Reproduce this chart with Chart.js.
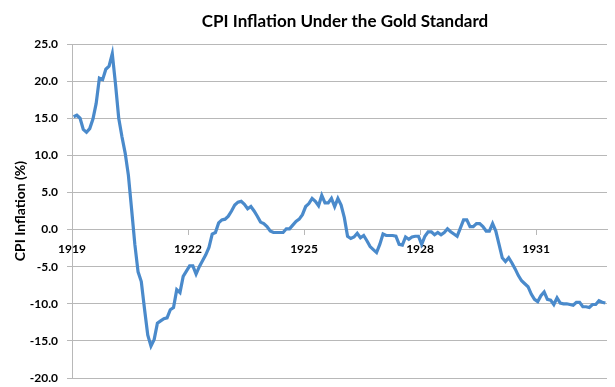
<!DOCTYPE html>
<html>
<head>
<meta charset="utf-8">
<script src="https://cdn.jsdelivr.net/npm/chart.js@4.4.1/dist/chart.umd.min.js"></script>
<style>
  html, body { margin: 0; padding: 0; background: #fff; }
  #wrap { width: 615px; height: 387px; }
</style>
</head>
<body>
<div id="wrap"><canvas id="cpiChart"></canvas></div>
<script>
// Chart texts
const chartTitle = 'CPI Inflation Under the Gold Standard';
const yAxisTitle = 'CPI Inflation (%)';

// x axis labels, one every 36 months
const yearLabels = ['1919', '1922', '1925', '1928', '1931'];
const monthsPerLabel = 36;

// y axis range (%)
const yMin = -20;
const yMax = 25;
const yStep = 5;

// monthly CPI inflation (%)
const cpiInflation = [
  15.2, 15.4, 15.0, 13.5, 13.1, 13.6, 14.9, 17.0, 20.4, 20.2, 21.6, 22.0,
  23.7, 19.6, 15.0, 12.5, 10.3, 7.3, 2.7, -2.0, -5.7, -7.0, -10.7, -14.2,
  -15.7, -14.8, -12.6, -12.3, -12.0, -11.9, -10.8, -10.5, -8.1, -8.5, -6.3, -5.6,
  -4.9, -4.9, -6.0, -5.0, -4.2, -3.4, -2.4, -0.6, -0.4, 0.9, 1.3, 1.4,
  1.8, 2.5, 3.3, 3.7, 3.8, 3.4, 2.8, 3.1, 2.5, 1.8, 1.0, 0.8,
  0.4, -0.2, -0.4, -0.4, -0.4, -0.4, 0.1, 0.1, 0.6, 1.1, 1.4, 2.0,
  3.1, 3.5, 4.2, 3.8, 3.2, 4.6, 3.6, 3.6, 4.2, 3.1, 4.2, 3.3,
  1.6, -0.9, -1.2, -1.0, -0.5, -1.1, -0.8, -1.5, -2.3, -2.7, -3.1, -2.0,
  -0.6, -0.8, -0.8, -0.8, -0.9, -2.0, -2.1, -1.0, -1.3, -1.0, -0.9, -0.9,
  -2.0, -0.9, -0.3, -0.3, -0.7, -0.4, -0.7, -0.4, 0.1, -0.3, -0.6, -0.9,
  0.2, 1.3, 1.3, 0.4, 0.4, 0.8, 0.8, 0.4, -0.2, -0.2, 0.8, -0.2,
  -2.0, -3.8, -4.3, -3.8, -4.5, -5.3, -6.2, -6.9, -7.3, -7.7, -8.7, -9.4,
  -9.7, -8.9, -8.4, -9.4, -9.5, -10.1, -9.2, -9.9, -10.0, -10.0, -10.1, -10.2,
  -9.8, -9.8, -10.4, -10.4, -10.5, -10.1, -10.1, -9.6, -9.8, -9.9
];

const fontFamily = 'Lato, "Open Sans", sans-serif';
const gridGray = '#b8b8b8';

// title drawn over the plot, slightly right of canvas centre like the original
const titlePlugin = {
  id: 'plotTitle',
  afterDraw(chart) {
    const ctx = chart.ctx;
    ctx.save();
    ctx.font = 'bold 17px ' + fontFamily;
    ctx.fillStyle = '#000';
    ctx.textAlign = 'center';
    ctx.textBaseline = 'middle';
    ctx.fillText(chartTitle, 345, 22);
    ctx.restore();
  }
};

const ctx = document.getElementById('cpiChart').getContext('2d');
new Chart(ctx, {
  type: 'line',
  data: {
    datasets: [{
      label: 'CPI Inflation',
      data: cpiInflation.map((v, i) => ({ x: i, y: v })),
      borderColor: '#4a8acb',
      borderWidth: 3.2,
      pointRadius: 0,
      fill: false,
      tension: 0
    }]
  },
  options: {
    responsive: true,
    maintainAspectRatio: false,
    animation: false,
    layout: {
      padding: { top: 44, right: 8, bottom: 9, left: 0 }
    },
    plugins: {
      legend: { display: false },
      tooltip: { enabled: false }
    },
    scales: {
      x: {
        type: 'linear',
        position: { y: 0 },
        min: -0.5,
        max: cpiInflation.length - 0.5,
        afterBuildTicks: scale => {
          scale.ticks = yearLabels.map((_, k) => ({ value: -0.5 + k * monthsPerLabel }));
        },
        afterFit: scale => { scale.height = 0; },
        ticks: {
          autoSkip: false,
          maxRotation: 0,
          padding: 7,
          color: '#000',
          font: { family: fontFamily, size: 12, weight: 'bold' },
          callback: (value, index) => yearLabels[index]
        },
        grid: {
          drawOnChartArea: false,
          drawTicks: true,
          tickLength: 5,
          color: gridGray
        },
        border: { color: gridGray, width: 1 }
      },
      y: {
        min: yMin,
        max: yMax,
        afterFit: scale => {
          scale.width = 72;
          // tick padding would otherwise push the plot bottom up
          scale.paddingTop = 0;
          scale.paddingBottom = 0;
        },
        ticks: {
          stepSize: yStep,
          padding: 9,
          color: '#000',
          font: { family: fontFamily, size: 12, weight: 'bold' },
          callback: value => value.toFixed(1)
        },
        grid: {
          color: gridGray,
          lineWidth: 1,
          tickLength: 5
        },
        border: { color: gridGray, width: 1 },
        title: {
          display: true,
          text: yAxisTitle,
          color: '#000',
          padding: { top: 12, bottom: 0 },
          font: { family: fontFamily, size: 14, weight: 'bold' }
        }
      }
    }
  },
  plugins: [titlePlugin]
});
</script>
</body>
</html>
